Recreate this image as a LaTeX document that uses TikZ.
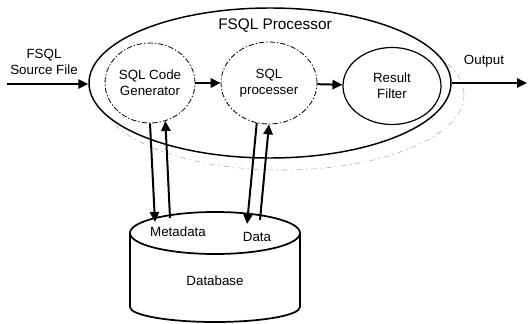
\documentclass[tikz,border=0pt]{standalone}
\usepackage{fontspec}
\setmainfont{Liberation Sans}
\usetikzlibrary{arrows.meta,shapes.geometric,calc}

\tikzset{
  flow/.style={line width=1.5pt,-{Triangle[length=7.5pt,width=7pt]}},
  stage/.style={ellipse,inner sep=0pt,align=center,font=\fontsize{10}{12}\selectfont},
  dashstage/.style={stage,draw,line width=0.6pt,dash pattern=on 4pt off 1.5pt on 1pt off 1.5pt},
  lbl/.style={inner sep=0.75pt,align=center,font=\fontsize{10}{12.5}\selectfont}
}

\begin{document}
\begin{tikzpicture}[x=0.75pt,y=0.75pt,yscale=-1,xscale=1]
\useasboundingbox (0,0) rectangle (528,324);

%Shape: Ellipse (shadow of the processor)
\draw [gray!60,line width=0.45pt,dash pattern=on 4pt off 3pt on 1pt off 3pt] (282,95) ellipse (182 and 75);
%Shape: Ellipse [FSQL Processor]
\node [ellipse,draw,fill=white,line width=1.1pt,inner sep=0pt,minimum width=271.5pt,minimum height=112.5pt] (fsql) at (270,83) {};

%Stages
\node [dashstage,minimum width=67.5pt,minimum height=60pt] (gen) at (150,83) {SQL Code\\Generator};
\node [dashstage,minimum width=72pt,minimum height=61.5pt] (sqlp) at (269,83) {SQL\\processer};
\node [stage,draw,line width=0.9pt,minimum width=73.5pt,minimum height=57.75pt] (filt) at (392,86) {Result\\Filter};

% Text Node
\node [lbl,font=\fontsize{11.5}{14}\selectfont] (title) at (275,26) {FSQL Processor};
% Text Node
\node [lbl] (srclbl) at (44,62) {FSQL\\Source File};
% Text Node
\node [lbl] (outlbl) at (484,61) {Output};

%Database
\draw [line width=1.3pt] (215,233) ellipse (85 and 21);
\draw [line width=1.3pt] (130,233) -- (130,307) arc[start angle=180,end angle=0,x radius=85,y radius=15] -- (300,233);
\node [lbl] (meta) at (178,232) {Metadata};
\node [lbl] (data) at (257,237) {Data};
\node [lbl] (db) at (215,281) {Database};

%Free ends
\coordinate (src) at (7,84);
\coordinate (out) at (527,83);
\coordinate (mdin) at (155,222);
\coordinate (mdout) at (170,218);
\coordinate (dtin) at (247,224);
\coordinate (dtout) at (260,220);

%Straight Lines
\draw [flow] (src) -- (src -| fsql.west);
\draw [flow] (fsql.east) -- (out);
\draw [flow] (gen) -- (sqlp);
\draw [flow] (sqlp) -- (filt);
\draw [flow] (gen.south) -- (mdin);
\draw [flow] (mdout) -- (gen.-68);
\draw [flow] (sqlp.-107) -- (dtin);
\draw [flow] (dtout) -- (sqlp.south);

\end{tikzpicture}
\end{document}
